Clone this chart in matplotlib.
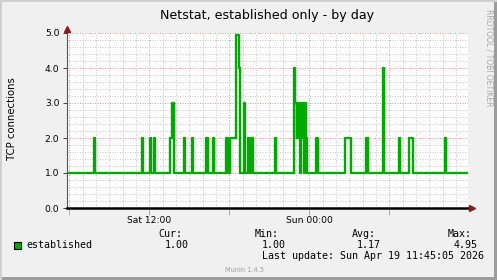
import matplotlib.pyplot as plt
from matplotlib.patches import Rectangle
from matplotlib.ticker import MultipleLocator, FixedLocator, FixedFormatter

# hours after Sat 00:00
t_start = 5.83
t_end = 35.81
x_min, x_max = 5.83, 35.90
baseline = 1.0

seg_start = [7.83, 11.43, 12.03, 12.33, 13.58, 13.70, 14.57, 15.17, 16.22, 16.75,
             17.72, 18.08, 18.47, 18.70, 19.07, 19.43, 19.65, 21.39,
             22.82, 22.95, 23.05, 23.10, 23.20, 23.28, 23.35, 23.45, 23.50, 23.60, 23.68, 23.75,
             24.49, 26.64, 28.22, 29.50, 30.70, 31.45, 34.15]
seg_end = [7.92, 11.52, 12.12, 12.45, 13.70, 13.88, 14.66, 15.26, 16.42, 16.85,
           17.93, 18.47, 18.70, 18.78, 19.16, 19.52, 19.76, 21.50,
           22.95, 23.05, 23.10, 23.20, 23.28, 23.35, 23.45, 23.50, 23.60, 23.68, 23.75, 23.82,
           24.65, 27.15, 28.43, 29.63, 30.82, 31.80, 34.28]
seg_value = [2, 2, 2, 2, 2, 3, 2, 2, 2, 2,
             2, 2, 4.95, 4, 3, 2, 2, 2,
             4, 3, 2, 3, 2, 1, 3, 2, 3, 1, 3, 2,
             2, 2, 2, 4, 2, 2, 2]

tick_hours = [6, 12, 18, 24, 30]
tick_labels = ["", "Sat 12:00", "", "Sun 00:00", ""]

title = "Netstat, established only - by day"
ylabel = "TCP connections"
series_name = "established"
stat_names = ["Cur:", "Min:", "Avg:", "Max:"]
stat_values = ["1.00", "1.00", "1.17", "4.95"]
last_update = "Last update: Sun Apr 19 11:45:05 2026"

W, H = 497, 280
green = "#00AA00"
bg = "#F0F0F0"

# step path from the segments
xs, ys = [t_start], [baseline]
for i in range(len(seg_start)):
    xs.append(seg_start[i])
    ys.append(seg_value[i])
    nxt = seg_start[i + 1] if i + 1 < len(seg_start) else None
    if nxt is None or abs(nxt - seg_end[i]) > 1e-9:
        xs.append(seg_end[i])
        ys.append(baseline)
xs.append(t_end)
ys.append(baseline)

fig = plt.figure(figsize=(W / 100, H / 100), dpi=100, facecolor=bg)
ax = fig.add_axes([67 / W, 1 - 208 / H, 401 / W, 175 / H])
ax.set_facecolor("white")

ax.step(xs, ys, where="post", color=green, lw=1.7, zorder=3)

ax.set_xlim(x_min, x_max)
ax.set_ylim(0, 5)

ax.xaxis.set_major_locator(FixedLocator(tick_hours))
ax.xaxis.set_major_formatter(FixedFormatter(tick_labels))
ax.xaxis.set_minor_locator(MultipleLocator(1))
ax.yaxis.set_major_locator(MultipleLocator(1))
ax.yaxis.set_minor_locator(MultipleLocator(0.2))
ax.yaxis.set_major_formatter(plt.FuncFormatter(lambda v, p: f"{v:.1f}"))

ax.set_axisbelow(True)
ax.grid(which="minor", color="#C8C8C8", linestyle=(0, (1, 1.5)), linewidth=0.72)
ax.grid(which="major", color="#E49A9A", linestyle=(0, (1, 1.5)), linewidth=0.72)

ax.tick_params(axis="x", which="major", length=5, color="#E49A9A", width=0.72,
               pad=1, labelsize=6.6, labelcolor="black")
ax.tick_params(axis="y", which="major", length=3, color="#444444", width=0.72,
               pad=2.5, labelsize=6.6)
ax.tick_params(which="minor", length=0)

for s in ["top", "right"]:
    ax.spines[s].set_visible(False)
ax.spines["bottom"].set_linewidth(1.8)
ax.spines["bottom"].set_color("black")
ax.spines["bottom"].set_zorder(4)
ax.spines["left"].set_linewidth(0.8)
ax.spines["left"].set_color("#555555")

# axis arrows
ax.plot([1 + 4 / 401], [0], marker=">", ms=4, color="#8B1A1A", transform=ax.transAxes,
        clip_on=False, zorder=5)
ax.plot([0], [1 + 4 / 175], marker="^", ms=4, color="#8B1A1A", transform=ax.transAxes,
        clip_on=False, zorder=5)


def px(x, y):
    return x / W, 1 - y / H


fig.text(*px(267, 18.7), title, ha="center", va="baseline", fontsize=9.1,
         family="DejaVu Sans")
fig.text(*px(12, 119), ylabel, ha="center", va="center", rotation=90, fontsize=7.3,
         family="DejaVu Sans")
fig.text(*px(489.5, 58), "RRDTOOL / TOBI OETIKER", ha="center", va="center",
         rotation=270, fontsize=5.5, color="#A8A8A8", family="DejaVu Sans")

# legend
fig.patches.append(Rectangle(px(13.5, 248.5), 7 / W, 7 / H, transform=fig.transFigure,
                             facecolor=green, edgecolor="black", linewidth=0.8))
mono = dict(family="DejaVu Sans Mono", fontsize=7.2, va="baseline")
fig.text(*px(26.7, 248.3), series_name, **mono)
name_x = [158.7, 255, 351.7, 447.3]
val_x = [164.3, 261.7, 357, 453.3]
for i in range(4):
    fig.text(*px(name_x[i], 236.7), stat_names[i], **mono)
    fig.text(*px(val_x[i], 248.3), stat_values[i], **mono)
fig.text(*px(261.7, 259), last_update, **mono)
fig.text(*px(225, 272.3), "Munin 1.4.5", ha="left", va="baseline", fontsize=4.8,
         color="#A0A0A0", family="DejaVu Sans")

# frame shading
fig.patches.append(Rectangle((0, 0), 1, 3 / H, transform=fig.transFigure,
                             facecolor="#9C9C9C", edgecolor="none"))
fig.patches.append(Rectangle((1 - 3 / W, 0), 3 / W, 1, transform=fig.transFigure,
                             facecolor="#9C9C9C", edgecolor="none"))
fig.patches.append(Rectangle((0, 1 - 2 / H), 1, 2 / H, transform=fig.transFigure,
                             facecolor="#D0D0D0", edgecolor="none"))
fig.patches.append(Rectangle((0, 0), 2 / W, 1, transform=fig.transFigure,
                             facecolor="#D0D0D0", edgecolor="none"))

fig.savefig("out.png", dpi=100, facecolor=bg)
